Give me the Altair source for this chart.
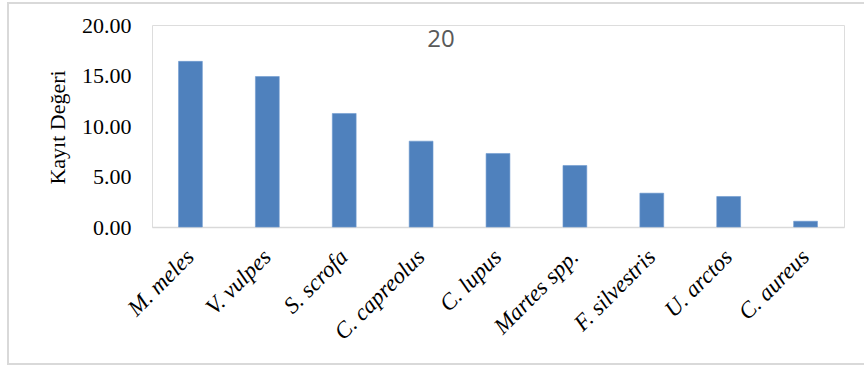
import altair as alt
import pandas as pd

species = ["M. meles", "V. vulpes", "S. scrofa", "C. capreolus", "C. lupus",
           "Martes spp.", "F. silvestris", "U. arctos", "C. aureus"]
values = [16.4, 14.9, 11.24, 8.5, 7.28, 6.09, 3.35, 3.02, 0.57]
y_ticks = [0, 5, 10, 15, 20]

df = pd.DataFrame({"species": species, "value": values})

W, H = 692, 202

bars = alt.Chart(df).mark_bar(color="#4F81BD", stroke="#6F9AD0", strokeWidth=0.6).encode(
    x=alt.X("species:N", sort=species,
            scale=alt.Scale(paddingInner=0.69, paddingOuter=0.345),
            axis=alt.Axis(title=None, labelAngle=-45, labelAlign="right",
                          labelBaseline="middle", labelPadding=26,
                          labelFont="Liberation Serif", labelFontStyle="italic",
                          labelFontSize=23, labelColor="#000000",
                          domainColor="#d9d9d9", domainWidth=1.5, ticks=False)),
    y=alt.Y("value:Q", scale=alt.Scale(domain=[0, 20], nice=False),
            axis=alt.Axis(title="Kayıt Değeri", values=y_ticks, format=".2f",
                          labelFont="Liberation Serif", labelFontSize=22,
                          labelColor="#000000", labelPadding=21, ticks=False,
                          domain=False, grid=False,
                          titleFont="Liberation Serif", titleFontSize=22,
                          titleFontWeight="normal", titleColor="#000000",
                          titleAngle=-90, titleX=-88, titleY=102,
                          titleAlign="center", titleBaseline="alphabetic")),
)

border = alt.Chart(df).mark_rect(fill=None, stroke="#d9d9d9", strokeWidth=1.5).encode(
    x=alt.value(-144), x2=alt.value(722), y=alt.value(-22), y2=alt.value(339)
)

chart = alt.layer(border, bars).properties(
    width=W, height=H,
    title=alt.TitleParams(text="20", font="Open Sans", fontSize=24,
                          fontWeight="normal", color="#595959",
                          anchor="middle", dx=-57, dy=66, baseline="middle"),
    autosize=alt.AutoSizeParams(type="none"),
    padding={"left": 152, "top": 25, "right": 20, "bottom": 138},
).configure_view(stroke=None).configure(background="#ffffff")

chart.save("out.html", embed_options={"renderer": "svg", "actions": False})
